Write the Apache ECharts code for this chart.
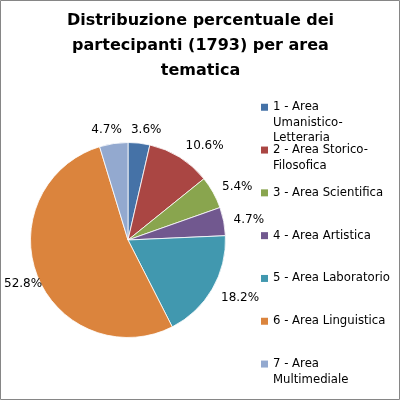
<!DOCTYPE html>
<html>
<head>
<meta charset="utf-8">
<script src="https://cdn.jsdelivr.net/npm/echarts@6/dist/echarts.min.js"></script>
<style>
html,body{margin:0;padding:0;background:#fff;}
#pieEc{width:401px;height:401px;}
</style>
</head>
<body>
<div id="pieEc"></div>
<script>
// categorie e percentuali
var categories = [
	'1 - Area Umanistico-Letteraria',
	'2 - Area Storico-Filosofica',
	'3 - Area Scientifica',
	'4 - Area Artistica',
	'5 - Area Laboratorio',
	'6 - Area Linguistica',
	'7 - Area Multimediale'
];
var percentages = [3.6, 10.6, 5.4, 4.7, 18.2, 52.8, 4.7];
// testo della legenda come va a capo nell'originale
var legendLines = [
	['1 - Area', 'Umanistico-', 'Letteraria'],
	['2 - Area Storico-', 'Filosofica'],
	['3 - Area Scientifica'],
	['4 - Area Artistica'],
	['5 - Area Laboratorio'],
	['6 - Area Linguistica'],
	['7 - Area', 'Multimediale']
];
var colors = ['#4572A7', '#AA4643', '#89A54E', '#71588F', '#4198AF', '#DB843D', '#93A9CF'];

var chart = echarts.init(document.getElementById('pieEc'));

var seriesData = [];
for (var i = 0; i < categories.length; i++) {
	seriesData.push({
		name: categories[i],
		value: percentages[i],
		itemStyle: {color: colors[i]}
	});
}

// ogni voce alta 5 righe, la prima riga di testo allineata al quadratino
function legendText(name) {
	var idx = categories.indexOf(name);
	var lines = legendLines[idx];
	var out = ['', ''].concat(lines);
	while (out.length < 5) out.push('');
	return out.join('\n');
}

// etichette appena fuori dal bordo, lungo la bisettrice (come Excel)
var labelGap = 9;
function placeLabel(params) {
	var lay = chart.getModel().getSeriesByIndex(0).getData().getItemLayout(params.dataIndex);
	var mid = (lay.startAngle + lay.endAngle) / 2;
	var ux = Math.cos(mid), uy = Math.sin(mid);
	var w = params.labelRect.width, h = params.labelRect.height;
	var ax = lay.cx + (lay.r + labelGap) * ux;
	var ay = lay.cy + (lay.r + labelGap) * uy;
	var fx = Math.max(-1, Math.min(1, ux * 3));
	var x = ax + w / 2 * fx + 1;
	var y = ay + h / 2 * uy + 1.5;
	if (x - w / 2 < 4) x = 4 + w / 2;
	return {x: x, y: y, align: 'center', verticalAlign: 'middle'};
}

var option = {
	backgroundColor: '#fff',
	animation: false,
	title: {
		text: 'Distribuzione percentuale dei\npartecipanti (1793) per area\ntematica',
		left: 'center',
		top: 8,
		padding: 0,
		textStyle: {
			fontFamily: 'DejaVu Sans',
			fontWeight: 'bold',
			fontSize: 16,
			lineHeight: 25,
			color: '#000'
		}
	},
	legend: {
		orient: 'vertical',
		left: 261,
		top: 68.5,
		height: 400,
		padding: 0,
		itemWidth: 7,
		itemHeight: 7,
		itemGap: -34.7,
		icon: 'rect',
		selectedMode: false,
		formatter: legendText,
		itemStyle: {borderWidth: 0},
		textStyle: {
			fontFamily: 'DejaVu Sans',
			fontSize: 11.7,
			lineHeight: 15.5,
			color: '#000'
		},
		data: categories
	},
	series: [{
		type: 'pie',
		center: [128, 240],
		radius: 97.5,
		startAngle: 90,
		clockwise: true,
		silent: true,
		avoidLabelOverlap: false,
		itemStyle: {borderColor: '#fff', borderWidth: 0.8},
		label: {
			show: true,
			position: 'outside',
			fontFamily: 'DejaVu Sans',
			fontSize: 12,
			color: '#000',
			formatter: function (p) { return p.value.toFixed(1) + '%'; }
		},
		labelLine: {show: false, length: 6, length2: 2},
		labelLayout: placeLabel,
		data: seriesData
	}],
	graphic: [{
		type: 'rect',
		shape: {x: 0.5, y: 0.5, width: 399, height: 399},
		style: {fill: 'none', stroke: '#868686', lineWidth: 1},
		silent: true
	}]
};
chart.setOption(option);
</script>
</body>
</html>
